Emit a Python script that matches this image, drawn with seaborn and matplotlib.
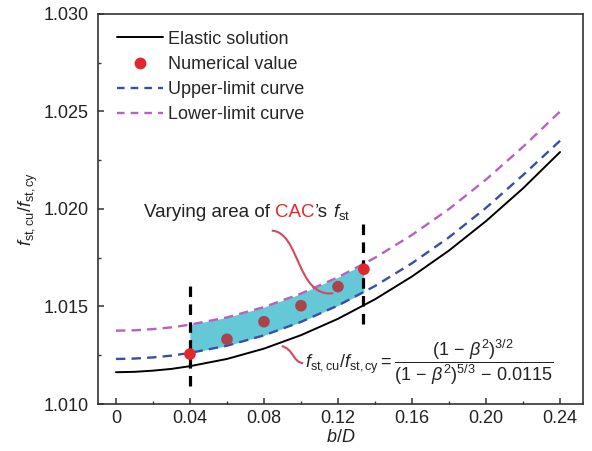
import numpy as np
import pandas as pd
import matplotlib
matplotlib.use("Agg")
import matplotlib.pyplot as plt
import seaborn as sns
from matplotlib.lines import Line2D
from matplotlib.path import Path
from matplotlib.patches import PathPatch
from matplotlib.ticker import FixedLocator, MultipleLocator

# ---------------- data ----------------
bD = [0.00, 0.01, 0.02, 0.03, 0.04, 0.06, 0.08, 0.10, 0.12, 0.14, 0.16, 0.18, 0.20, 0.22, 0.24]
elastic = [1.01163, 1.01165, 1.01171, 1.01180, 1.01194, 1.01231, 1.01284, 1.01353, 1.01437,
           1.01537, 1.01654, 1.01787, 1.01938, 1.02106, 1.02292]
upper_limit = [1.01231, 1.01233, 1.01239, 1.01248, 1.01262, 1.01299, 1.01352, 1.01421, 1.01505,
               1.01605, 1.01722, 1.01855, 1.02006, 1.02174, 1.02350]
lower_limit = [1.01376, 1.01378, 1.01384, 1.01393, 1.01407, 1.01444, 1.01497, 1.01566, 1.01650,
               1.01750, 1.01867, 1.02000, 1.02151, 1.02319, 1.02500]

num_x = [0.04, 0.06, 0.08, 0.10, 0.12, 0.134]
num_y = [1.01256, 1.01332, 1.01422, 1.01504, 1.01602, 1.01691]
num_group = ["edge", "inner", "inner", "inner", "inner", "edge"]

band_x = [0.04, 0.06, 0.08, 0.10, 0.12, 0.134]
band_low = [1.01262, 1.01299, 1.01352, 1.01421, 1.01505, 1.01573]
band_high = [1.01407, 1.01444, 1.01497, 1.01566, 1.01650, 1.01718]

bound_x = [0.04, 0.1337]
bound_bottom = [1.0109, 1.0141]
bound_top = [1.0163, 1.0195]

xticks = [0.00, 0.04, 0.08, 0.12, 0.16, 0.20, 0.24]
xtick_labels = ["0", "0.04", "0.08", "0.12", "0.16", "0.20", "0.24"]
yticks = [1.010, 1.015, 1.020, 1.025, 1.030]
ytick_labels = ["1.010", "1.015", "1.020", "1.025", "1.030"]

legend_labels = ["Elastic solution", "Numerical value", "Upper-limit curve", "Lower-limit curve"]

# ---------------- style ----------------
sns.set_theme(style="ticks")
plt.rcParams["font.family"] = ["Liberation Sans", "DejaVu Sans"]
plt.rcParams["mathtext.fontset"] = "custom"
plt.rcParams["mathtext.rm"] = "Liberation Sans"
plt.rcParams["mathtext.it"] = "Liberation Sans:italic"
plt.rcParams["mathtext.bf"] = "Liberation Sans:bold"

FS = 13
C_TEXT = "#222222"
C_BLUE = "#3A4EA8"
C_MAG = "#B862BE"
C_RED = "#E2262C"
C_RED_IN = "#A8444E"
C_FILL = "#64C8D7"
C_CURVE = "#D8475F"
C_SPINE = "#333333"

fig = plt.figure(figsize=(5.92, 4.51), dpi=100)
ax = fig.add_axes([0.1655, 0.1042, 0.8193, 0.8648])

df = pd.DataFrame({"bD": bD, "elastic": elastic, "upper": upper_limit, "lower": lower_limit})
dn = pd.DataFrame({"x": num_x, "y": num_y, "g": num_group})

# band
ax.fill_between(band_x, band_low, band_high, color=C_FILL, lw=0, zorder=1)

# curves
sns.lineplot(data=df, x="bD", y="elastic", ax=ax, color="black", lw=1.4, zorder=3)
sns.lineplot(data=df, x="bD", y="upper", ax=ax, color=C_BLUE, lw=1.7,
             linestyle=(0, (4, 2.6)), zorder=3)
sns.lineplot(data=df, x="bD", y="lower", ax=ax, color=C_MAG, lw=1.7,
             linestyle=(0, (4, 2.6)), zorder=3)

# boundaries
ax.vlines(bound_x, bound_bottom, bound_top, colors="black", lw=2.3,
          linestyles=[(0, (3.3, 2.3))], zorder=4)

# numerical values
sns.scatterplot(data=dn, x="x", y="y", hue="g", palette={"edge": C_RED, "inner": C_RED_IN},
                s=70, edgecolor="none", legend=False, ax=ax, zorder=5)

# axes
ax.set_xlim(-0.0097, 0.2524)
ax.set_ylim(1.010, 1.030)
ax.xaxis.set_major_locator(FixedLocator(xticks))
ax.set_xticklabels(xtick_labels)
ax.xaxis.set_minor_locator(MultipleLocator(0.02))
ax.yaxis.set_major_locator(FixedLocator(yticks))
ax.set_yticklabels(ytick_labels)
ax.yaxis.set_minor_locator(MultipleLocator(0.0025))
ax.tick_params(axis="both", which="both", direction="in", top=False, right=False,
               colors=C_SPINE, labelcolor=C_TEXT)
ax.tick_params(axis="both", which="major", length=4, width=1.1, labelsize=FS)
ax.tick_params(axis="both", which="minor", length=2.2, width=1.0)
ax.tick_params(axis="x", which="major", pad=4.5)
ax.tick_params(axis="y", which="major", pad=7)
for sp in ax.spines.values():
    sp.set_visible(True)
    sp.set_color(C_SPINE)
    sp.set_linewidth(1.2)

ax.set_xlabel(r"$b/D$", fontsize=FS, labelpad=1, color=C_TEXT)
ax.set_ylabel(r"$f_{\mathrm{st,cu}}/f_{\mathrm{st,cy}}$", fontsize=FS, labelpad=2, color=C_TEXT)

# legend
handles = [
    Line2D([], [], color="black", lw=1.4),
    Line2D([], [], color=C_RED, marker="o", ls="none", markersize=8.5, markeredgewidth=0),
    Line2D([], [], color=C_BLUE, lw=1.7, linestyle=(0, (3.2, 2.6))),
    Line2D([], [], color=C_MAG, lw=1.7, linestyle=(0, (3.2, 2.6))),
]
ax.legend(handles, legend_labels, loc="upper left", bbox_to_anchor=(0.039, 0.957),
          frameon=False, fontsize=FS, borderpad=0, borderaxespad=0,
          handlelength=2.55, handletextpad=0.3, labelspacing=0.45)

# annotation: varying area text (multi-coloured)
FS_A = 13.5
fig.canvas.draw()
renderer = fig.canvas.get_renderer()
inv = ax.transData.inverted()
gap_px = 0.278 * FS_A * fig.dpi / 72.0
yb = 1.01959
xt = 0.0151
pieces = [("Varying area of", C_TEXT, True), ("CAC", "#E8262C", False),
          ("\u2019s", C_TEXT, True), (r"$f_{\mathrm{st}}$", C_TEXT, False)]
for txt, col, space_after in pieces:
    t = ax.text(xt, yb, txt, color=col, fontsize=FS_A, ha="left", va="baseline", zorder=6)
    bb = t.get_window_extent(renderer)
    x1 = bb.x1 + (gap_px if space_after else 0.0)
    xt = inv.transform((x1, 0))[0]

# annotation curves (connectors)
def connector(p0, p1, p2, p3):
    path = Path([p0, p1, p2, p3], [Path.MOVETO, Path.CURVE4, Path.CURVE4, Path.CURVE4])
    ax.add_patch(PathPatch(path, fc="none", ec=C_CURVE, lw=1.5, zorder=6))

connector((0.0842, 1.01889), (0.0995, 1.01882), (0.0975, 1.01544), (0.1175, 1.01568))
connector((0.0896, 1.01297), (0.0960, 1.01282), (0.0955, 1.01215), (0.1012, 1.01209))

# formula
ax.text(0.1022, 1.01215,
        r"$f_{\mathrm{st,cu}}/f_{\mathrm{st,cy}}=\dfrac{(1\,-\,\beta^2)^{3/2}}{(1\,-\,\beta^2)^{5/3}\,-\,0.0115}$",
        fontsize=FS, ha="left", va="center", color=C_TEXT, zorder=6)

fig.savefig("out.png", dpi=100)
